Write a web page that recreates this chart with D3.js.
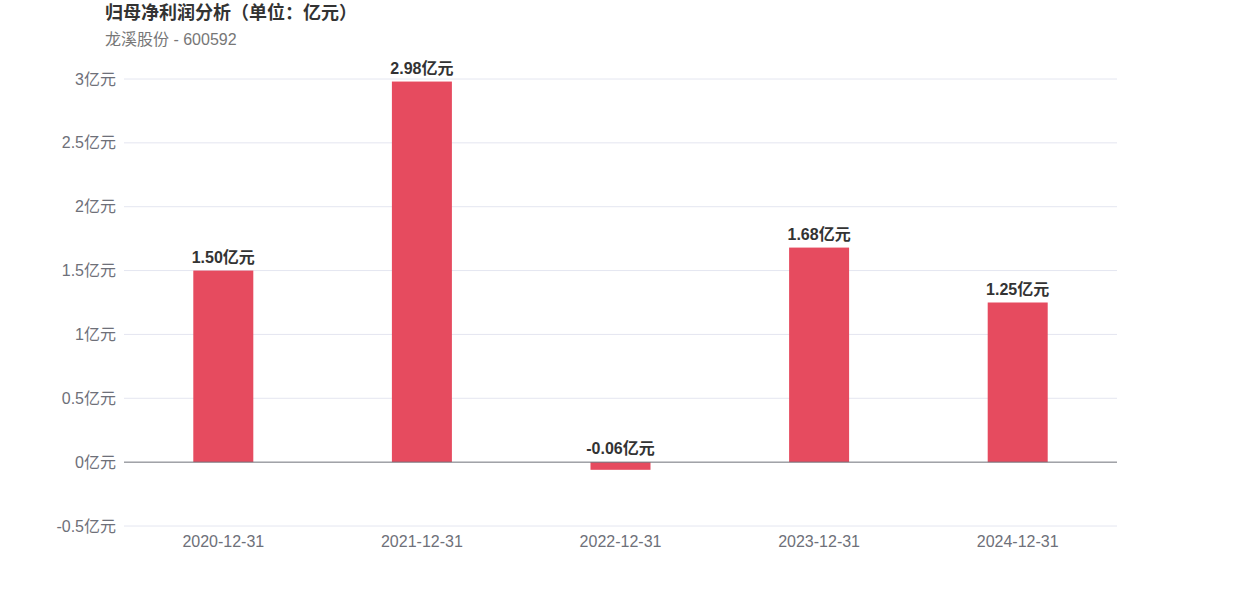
<!DOCTYPE html>
<html><head><meta charset="utf-8">
<script src="https://cdn.jsdelivr.net/npm/d3@7"></script>
<style>body{margin:0;background:#fff;font-family:"Liberation Sans","Noto Sans CJK SC",sans-serif;}</style>
</head><body>
<svg id="c" width="1242" height="596"></svg>
<script>
const categories = ["2020-12-31","2021-12-31","2022-12-31","2023-12-31","2024-12-31"];
const values = [1.50, 2.98, -0.06, 1.68, 1.25];
const yTicks = [-0.5, 0, 0.5, 1, 1.5, 2, 2.5, 3];
const title = "归母净利润分析（单位：亿元）";
const subtitle = "龙溪股份 - 600592";

const svg = d3.select("#c");
const font = '"Liberation Sans","Noto Sans CJK SC",sans-serif';
const m = {l:124, r:1117, t:79, b:526};
const x = d3.scaleBand().domain(categories).range([m.l, m.r]);
const y = d3.scaleLinear().domain([-0.5, 3]).range([m.b, m.t]);

svg.append("text").attr("x",105).attr("y",19).text(title)
  .attr("font-size",18).attr("font-weight","bold").attr("fill","#333").attr("font-family",font);
svg.append("text").attr("x",105).attr("y",45).text(subtitle)
  .attr("font-size",16).attr("fill","#777").attr("font-family",font);

svg.append("g").selectAll("line").data(yTicks.filter(d=>d!==0)).join("line")
  .attr("x1",m.l).attr("x2",m.r).attr("y1",d=>y(d)).attr("y2",d=>y(d))
  .attr("stroke","#e4e6f0").attr("stroke-width",1);

svg.append("g").selectAll("text").data(yTicks).join("text")
  .attr("x",116).attr("y",d=>y(d)).attr("dy","0.35em").attr("text-anchor","end")
  .attr("font-size",16).attr("fill","#6e7079").attr("font-family",font)
  .text(d=>d+"亿元");

const bw = 60;
svg.append("g").selectAll("rect").data(values).join("rect")
  .attr("x",(d,i)=>x(categories[i])+x.bandwidth()/2-bw/2)
  .attr("width",bw)
  .attr("y",d=>y(Math.max(0,d)))
  .attr("height",d=>Math.abs(y(d)-y(0)))
  .attr("fill","#e64b5f");

svg.append("line").attr("x1",m.l).attr("x2",m.r).attr("y1",y(0)).attr("y2",y(0))
  .attr("stroke","#6e7079").attr("stroke-width",1);

svg.append("g").selectAll("text").data(values).join("text")
  .attr("x",(d,i)=>x(categories[i])+x.bandwidth()/2)
  .attr("y",d=>y(Math.max(0,d))-8)
  .attr("text-anchor","middle").attr("font-size",16).attr("font-weight","bold")
  .attr("fill","#333").attr("font-family",font)
  .text(d=>d.toFixed(2)+"亿元");

svg.append("g").selectAll("text").data(categories).join("text")
  .attr("x",d=>x(d)+x.bandwidth()/2).attr("y",547)
  .attr("text-anchor","middle").attr("font-size",16).attr("fill","#6e7079").attr("font-family",font)
  .text(d=>d);
</script>
</body></html>
